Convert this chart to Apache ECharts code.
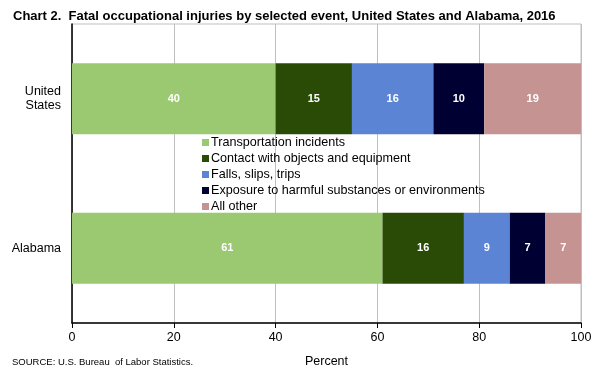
<!DOCTYPE html>
<html>
<head>
<meta charset="utf-8">
<script src="https://cdn.jsdelivr.net/npm/echarts@6/dist/echarts.min.js"></script>
<style>html,body{margin:0;padding:0;background:#fff}#c{width:600px;height:373px}</style>
</head>
<body>
<div id="c"></div>
<script>
const categories = ['Alabama', 'United\nStates'];
const seriesNames = ['Transportation incidents', 'Contact with objects and equipment', 'Falls, slips, trips', 'Exposure to harmful substances or environments', 'All other'];
const transportation = [61, 40];
const contact = [16, 15];
const falls = [9, 16];
const exposure = [7, 10];
const allOther = [7, 19];
const xTicks = [0, 20, 40, 60, 80, 100];
const colors = ['#9BC972', '#2A4B06', '#5B84D4', '#000033', '#C49392'];
const values = [transportation, contact, falls, exposure, allOther];

const chart = echarts.init(document.getElementById('c'), null, {renderer: 'canvas'});
chart.setOption({
  animation: false,
  title: {
    text: 'Chart 2.  Fatal occupational injuries by selected event, United States and Alabama, 2016',
    left: 8, top: 5,
    textStyle: {fontFamily: 'Liberation Sans, Arial', fontWeight: 'bold', fontSize: 13, color: '#000'}
  },
  legend: {
    orient: 'vertical',
    left: 197, top: 131,
    itemWidth: 7, itemHeight: 7, itemGap: 3,
    icon: 'rect',
    textStyle: {fontFamily: 'Liberation Sans, Arial', fontSize: 12.6, color: '#000', padding: [0, 0, 0, -3]},
    data: seriesNames
  },
  grid: {left: 72, right: 19, top: 24, bottom: 50, show: true, borderColor: '#BFBFBF', borderWidth: 1},
  xAxis: {
    type: 'value', min: 0, max: 100, interval: 20,
    name: 'Percent', nameLocation: 'middle', nameGap: 32,
    nameTextStyle: {fontFamily: 'Liberation Sans, Arial', fontSize: 12.5, color: '#000'},
    axisLine: {show: true, lineStyle: {color: '#000', width: 1.5}},
    axisTick: {show: true, length: 5, lineStyle: {color: '#000'}},
    axisLabel: {fontFamily: 'Liberation Sans, Arial', fontSize: 12.5, color: '#000', margin: 8,
      formatter: v => xTicks.includes(v) ? String(v) : ''},
    splitLine: {show: true, lineStyle: {color: '#BFBFBF', width: 1}}
  },
  yAxis: {
    type: 'category', data: categories,
    axisLine: {show: true, lineStyle: {color: '#000', width: 1.5}},
    axisTick: {show: false},
    axisLabel: {fontFamily: 'Liberation Sans, Arial', fontSize: 12.5, color: '#000', margin: 11, lineHeight: 14}
  },
  series: seriesNames.map((n, i) => ({
    name: n, type: 'bar', stack: 'total', barWidth: 71,
    itemStyle: {color: colors[i]},
    label: {show: true, position: 'inside', color: '#fff', fontWeight: 'bold', fontSize: 11, fontFamily: 'Liberation Sans, Arial'},
    data: values[i]
  })),
  graphic: [{
    type: 'text', left: 12, top: 357,
    style: {text: 'SOURCE: U.S. Bureau  of Labor Statistics.', fontFamily: 'Liberation Sans, Arial', fontSize: 9.5, fill: '#000'}
  }]
});
</script>
</body>
</html>
